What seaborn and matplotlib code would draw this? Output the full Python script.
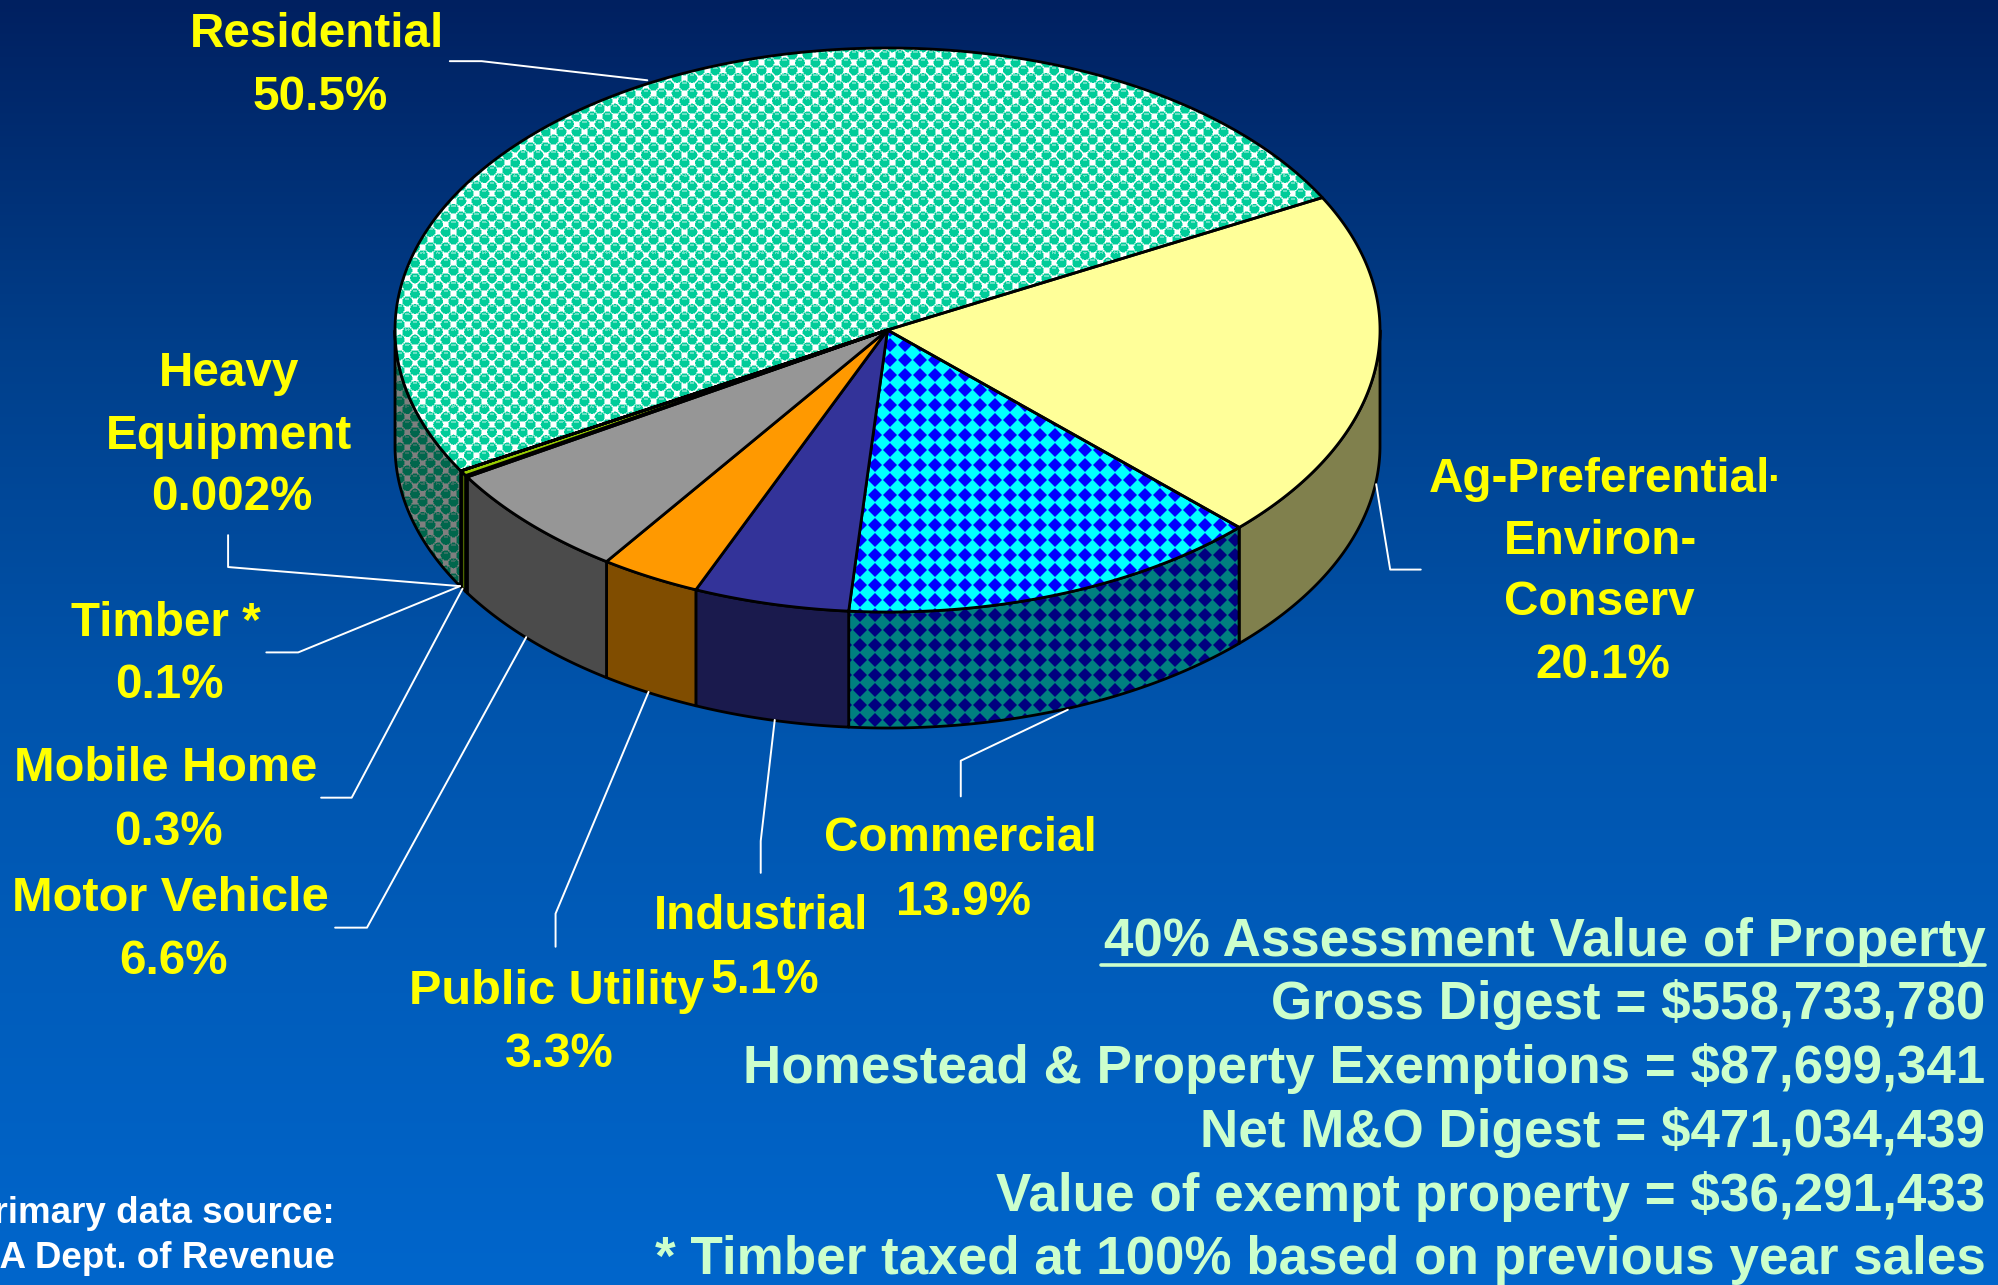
# -*- coding: utf-8 -*-
# Property digest pie, drawn as a tilted 3D pie on a blue gradient slide
import numpy as np
import matplotlib
matplotlib.use("Agg")
import matplotlib.pyplot as plt
from matplotlib.patches import Polygon
import seaborn as sns

# data, clockwise from the Residential / Ag boundary
categories = ["Ag-Preferential", "Commercial", "Industrial", "Public Utility",
              "Motor Vehicle", "Timber", "Mobile Home", "Heavy Equipment", "Residential"]
shares = [20.1, 13.9, 5.1, 3.3, 6.6, 0.1, 0.3, 0.002, 50.5]
top_colors = ["#FFFF99", "#00FFFF", "#333399", "#FF9900", "#969696",
              "#5A5A5A", "#99CC00", "#99CC00", "#00CC99"]
textures = {"Commercial": "diamond", "Residential": "bubble"}

digest_lines = ["40% Assessment Value of Property",
                "Gross Digest = $558,733,780",
                "Homestead & Property Exemptions = $87,699,341",
                "Net M&O Digest = $471,034,439",
                "Value of exempt property = $36,291,433",
                "* Timber taxed at 100% based on previous year sales"]
source_lines = ["Primary data source:", "GA Dept. of Revenue"]

W, H = 1998, 1285
S = W / 1568

# pie geometry in pixels
CX, CY, RX, RY, DEPTH = 887.5, 330, 492.5, 282, 116
START = 28

sns.set_theme(style="white")
plt.rcParams["font.family"] = ["Liberation Sans", "DejaVu Sans"]
plt.rcParams["font.weight"] = "bold"

fig = plt.figure(figsize=(W / 100, H / 100), dpi=100)
ax = fig.add_axes([0, 0, 1, 1])
ax.axis("off")

# background
stops_y = [0, 350, 700, 1285]
stops_g = [32, 63, 84, 102]
stops_b = [96, 139, 172, 204]
rows = np.arange(H)
bg = np.zeros((H, 1, 3))
bg[:, 0, 1] = np.interp(rows, stops_y, stops_g) / 255
bg[:, 0, 2] = np.interp(rows, stops_y, stops_b) / 255
ax.imshow(bg, extent=(0, W, H, 0), aspect="auto", zorder=0)

# fill patterns, worked out on the pixel grid
yy, xx = np.mgrid[0:H, 0:W] + 0.5


def make_texture(kind):
    tex = np.ones((H, W, 3))
    rgb = matplotlib.colors.to_rgb
    if kind == "bubble":
        # staggered circles, period 15.4 across with every other row shifted
        p = 7.7
        u = (xx - 723 + yy - 155) / (2 * p)
        v = (xx - 723 - yy + 155) / (2 * p)
        du = u - np.round(u)
        dv = v - np.round(v)
        dx, dy = p * (du + dv), p * (du - dv)
        dist = np.hypot(dx, dy)
        tex[dist < 5.4] = rgb("#8CE8D0")
        tex[dist < 4.6] = rgb("#00CC99")
        tex[(np.abs(dx) < 2.2) & (np.abs(dy + 2.6) < 1.0)] = rgb("#66E0C2")
    else:
        # diamonds on a square grid, touching at the tips
        p = 15
        dx = (xx - 980 + p / 2) % p - p / 2
        dy = (yy - 495 + p / 2) % p - p / 2
        tex[:] = rgb("#00FFFF")
        dist = np.abs(dx) + np.abs(dy)
        tex[dist < 7.6] = rgb("#0080FF")
        tex[dist < 6.8] = rgb("#0000FF")
    return tex


tex_cache = {k: make_texture(k) for k in set(textures.values())}


def rim(theta, drop=0):
    rad = np.radians(theta)
    return np.column_stack([CX + RX * np.cos(rad), CY - RY * np.sin(rad) + drop])


def draw_face(pts, color, name, shade, z):
    kind = textures.get(name)
    if kind:
        im = ax.imshow(tex_cache[kind] * shade, extent=(0, W, H, 0), aspect="auto",
                       interpolation="nearest", zorder=z)
        clip = Polygon(pts, closed=True, transform=ax.transData)
        im.set_clip_path(clip)
        face = "none"
    else:
        r, g, b = matplotlib.colors.to_rgb(color)
        face = (r * shade, g * shade, b * shade)
    ax.add_patch(Polygon(pts, closed=True, facecolor=face, edgecolor="black",
                         linewidth=2.0, joinstyle="round", zorder=z + 0.5))


palette = sns.color_palette(top_colors)
sweeps = np.array(shares) / sum(shares) * 360
ends = START - np.cumsum(sweeps)
begins = ends + sweeps

# side walls first, only the part that faces the viewer
for name, color, a1, a2 in zip(categories, palette, begins, ends):
    theta = np.linspace(a2, a1, 500)
    theta = theta[np.sin(np.radians(theta)) <= 0]
    if len(theta) > 1:
        wall = np.vstack([rim(theta), rim(theta, DEPTH)[::-1]])
        draw_face(wall, color, name, 0.5, 2)

# top of the pie
for name, color, a1, a2 in zip(categories, palette, begins, ends):
    theta = np.linspace(a2, a1, 500)
    top = np.vstack([[CX, CY], rim(theta)])
    draw_face(top, color, name, 1.0, 4)

# leader lines
leaders = [
    [(353, 48), (378, 48), (508, 63)],
    [(1115, 447), (1091, 447), (1080, 380)],
    [(754, 625), (754, 597), (838, 557)],
    [(597, 685), (597, 660), (608, 565)],
    [(436, 743), (436, 717), (509, 543)],
    [(263, 728), (288, 728), (413, 500)],
    [(252, 626), (276, 626), (363, 462)],
    [(209, 512), (234, 512), (361, 460)],
    [(179, 420), (179, 445), (361, 460)],
]
for line in leaders:
    pts = np.array(line) * S
    sns.lineplot(x=pts[:, 0], y=pts[:, 1], sort=False, estimator=None, color="white",
                 linewidth=1.4, ax=ax, zorder=6, legend=False)

# slice labels: centre x, baseline y, text
labels = [
    (249, 37, "Residential"), (251, 86, "50.5%"),
    (180, 303, "Heavy"), (180, 352, "Equipment"), (182, 400, "0.002%"),
    (130, 499, "Timber *"), (133, 548, "0.1%"),
    (130, 613, "Mobile Home"), (132, 663, "0.3%"),
    (134, 715, "Motor Vehicle"), (136, 764, "6.6%"),
    (437, 788, "Public Utility"), (439, 837, "3.3%"),
    (597, 729, "Industrial"), (600, 779, "5.1%"),
    (754, 668, "Commercial"), (756, 718, "13.9%"),
    (1255, 386, "Ag-Preferential"), (1256, 435, "Environ-"),
    (1255, 483, "Conserv"), (1258, 532, "20.1%"),
]
two_word = ["Mobile Home", "Motor Vehicle", "Public Utility"]  # wider word gap on the slide
for x, y, txt in labels:
    size = 35.1 if txt in two_word else 34.3
    ax.text(x * S, y * S, txt, color="#FFFF00", fontsize=size, ha="center", va="baseline", zorder=7)
ax.text(1392 * S, 386 * S, "·", color="#FFFF00", fontsize=30, ha="center", va="baseline", zorder=7)

# digest block on the right
base_y = [750, 800, 850, 900, 950, 1000]
for y, txt in zip(base_y, digest_lines):
    ax.text(1558 * S, y * S, txt, color="#CCFFCC", fontsize=38.2, ha="right", va="baseline", zorder=7)
ax.plot([864 * S, 1558 * S], [757.5 * S, 757.5 * S], color="#CCFFCC", linewidth=2.6, zorder=7)

# source note, runs off the left edge like the slide does
ax.text(335, 1223, source_lines[0], color="white", fontsize=26.5, ha="right", va="baseline", zorder=7)
ax.text(335, 1268, source_lines[1], color="white", fontsize=26.5, ha="right", va="baseline", zorder=7)

ax.set_xlim(0, W)
ax.set_ylim(H, 0)
fig.savefig("out.png", dpi=100)
